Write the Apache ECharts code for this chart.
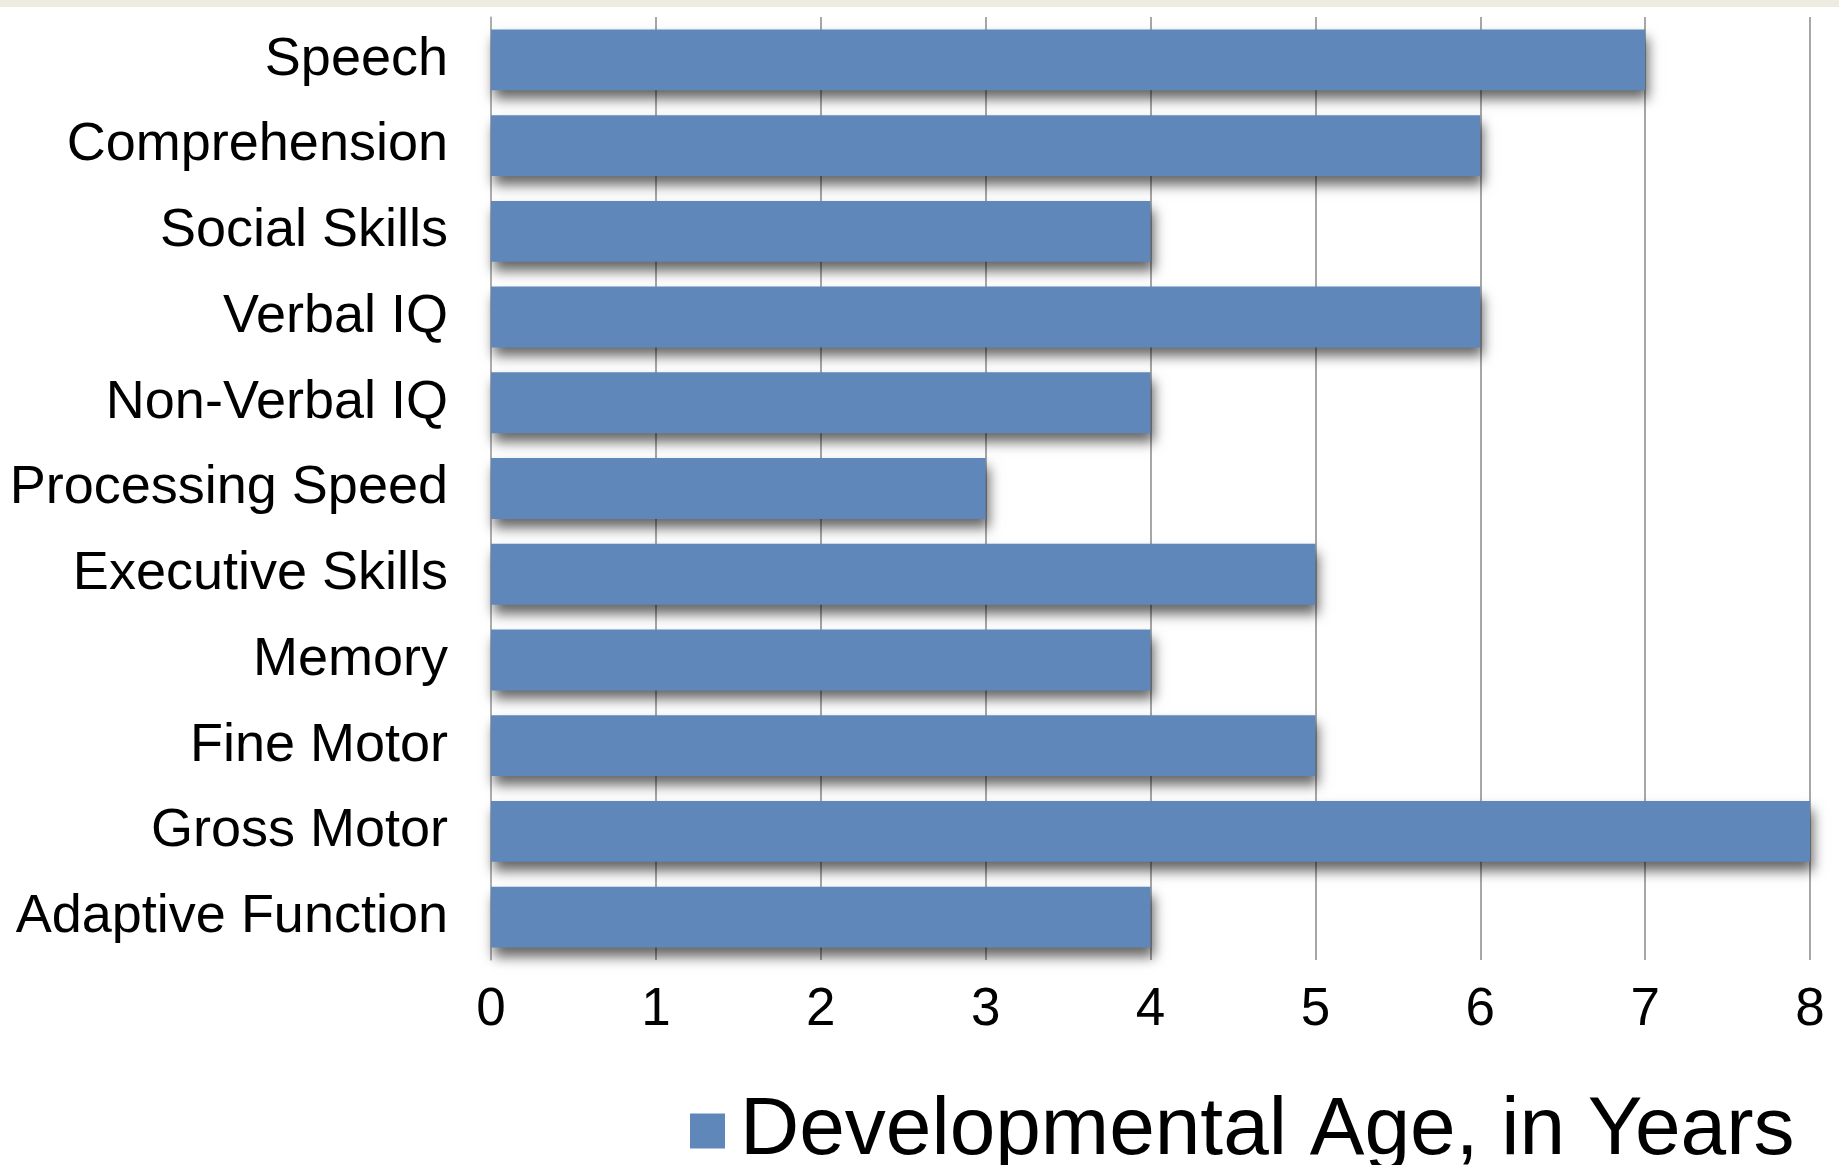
<!DOCTYPE html>
<html><head><meta charset="utf-8">
<script src="https://cdn.jsdelivr.net/npm/echarts@6/dist/echarts.min.js"></script>
<style>html,body{margin:0;padding:0;background:#fff}#c{width:1839px;height:1165px}</style>
</head><body><div id="c"></div>
<script>
const categories = ["Speech","Comprehension","Social Skills","Verbal IQ","Non-Verbal IQ","Processing Speed","Executive Skills","Memory","Fine Motor","Gross Motor","Adaptive Function"];
const values = [7,6,4,6,4,3,5,4,5,8,4];
const seriesName = "Developmental Age, in Years";
const xTicks = [0,1,2,3,4,5,6,7,8];

const chart = echarts.init(document.getElementById('c'), null, {renderer:'canvas'});
const font = '"Liberation Sans", Arial, Helvetica, sans-serif';
chart.setOption({
  animation:false,
  backgroundColor:'#ffffff',
  graphic:[{type:'rect', left:0, top:0, shape:{width:1839, height:7}, style:{fill:'#EEEBE1'}, silent:true}],
  grid:{left:491, right:29, top:17, bottom:1165-960, containLabel:false},
  legend:{
    data:[seriesName], left:685, top:1085, icon:'rect', itemWidth:35, itemHeight:35, itemGap:10,
    textStyle:{fontFamily:font, fontSize:82, color:'#000', lineHeight:82, padding:[0,0,0,10]}
  },
  xAxis:{
    type:'value', min:xTicks[0], max:xTicks[xTicks.length-1], interval:1,
    axisLine:{show:false}, axisTick:{show:false},
    splitLine:{show:true, lineStyle:{color:'#8a8a8a', width:1.5}},
    axisLabel:{fontFamily:font, fontSize:53, color:'#000', margin:24}
  },
  yAxis:{
    type:'category', data:categories, inverse:true,
    axisLine:{show:true, lineStyle:{color:'#b0b0b0', width:1.5}},
    axisTick:{show:false},
    axisLabel:{fontFamily:font, fontSize:54, color:'#000', margin:43}
  },
  series:[{
    name:seriesName, type:'bar', data:values, barCategoryGap:'29%',
    itemStyle:{color:'#5F87B9', shadowColor:'rgba(0,0,0,0.6)', shadowBlur:12, shadowOffsetX:3, shadowOffsetY:9}
  }]
});
</script></body></html>
